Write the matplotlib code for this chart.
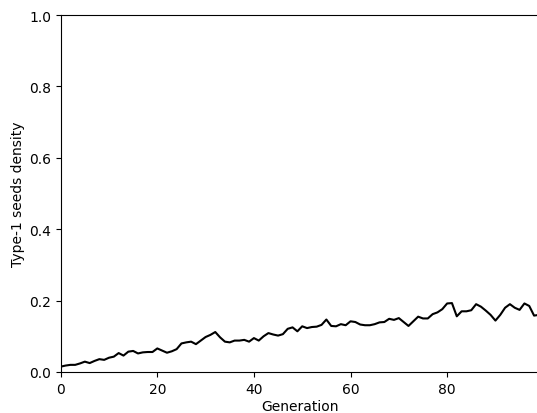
import matplotlib
matplotlib.use("Agg")
import matplotlib.pyplot as plt
import numpy as np

# density of type-1 seeds per generation
generations = np.arange(100)
density = [
    0.015, 0.018, 0.020, 0.020, 0.024, 0.029, 0.025, 0.031, 0.036, 0.034,
    0.040, 0.043, 0.053, 0.046, 0.057, 0.059, 0.052, 0.055, 0.056, 0.056,
    0.066, 0.060, 0.054, 0.058, 0.064, 0.080, 0.083, 0.085, 0.078, 0.088,
    0.098, 0.104, 0.112, 0.097, 0.085, 0.083, 0.088, 0.088, 0.090, 0.085,
    0.095, 0.088, 0.100, 0.109, 0.105, 0.102, 0.106, 0.121, 0.125, 0.114,
    0.128, 0.123, 0.126, 0.127, 0.132, 0.147, 0.129, 0.128, 0.134, 0.131,
    0.142, 0.140, 0.133, 0.131, 0.131, 0.134, 0.139, 0.140, 0.149, 0.146,
    0.151, 0.140, 0.129, 0.142, 0.155, 0.150, 0.150, 0.162, 0.167, 0.176,
    0.192, 0.193, 0.156, 0.170, 0.170, 0.173, 0.190, 0.183, 0.172, 0.160,
    0.144, 0.160, 0.180, 0.190, 0.180, 0.174, 0.192, 0.185, 0.158, 0.160,
]

fig = plt.figure(figsize=(5.37, 4.14), dpi=100)
# axes run slightly past the right edge, like the cropped original
ax = fig.add_axes([60.7 / 537, 41 / 414, 478.2 / 537, 357 / 414])

ax.plot(generations, density, color='black', linewidth=1.5)

ax.set_xlim(0, 99)
ax.set_ylim(0, 1.0)
ax.set_xlabel('Generation', labelpad=2.5)
ax.set_ylabel('Type-1 seeds density', labelpad=3)

fig.savefig('out.png', dpi=100)
